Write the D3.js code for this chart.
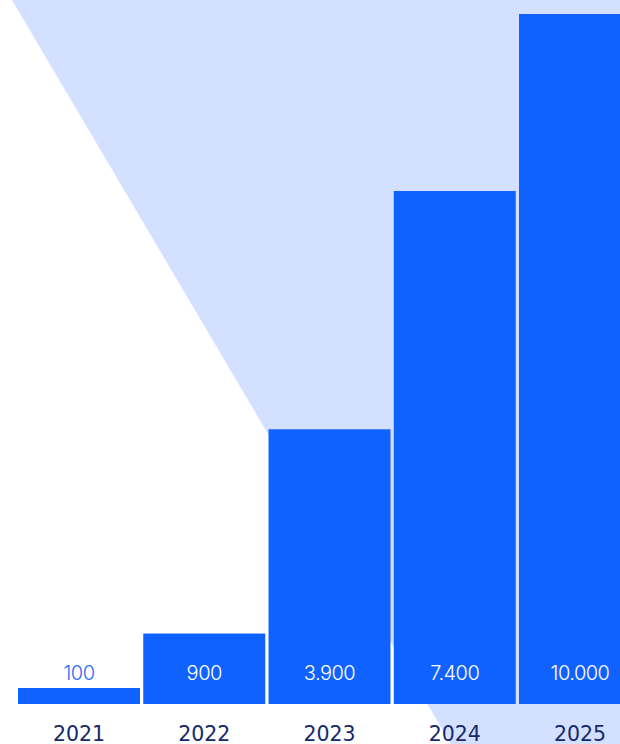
<!DOCTYPE html>
<html>
<head>
<meta charset="utf-8">
<script src="https://cdn.jsdelivr.net/npm/d3@7"></script>
<style>
  html, body { margin: 0; padding: 0; background: #ffffff; }
  svg { display: block; }
</style>
</head>
<body>
<svg id="chart" width="620" height="744"></svg>
<script>
const years = ["2021", "2022", "2023", "2024", "2025"];
const values = [100, 900, 3900, 7400, 10000];
const valueLabels = ["100", "900", "3.900", "7.400", "10.000"];

const W = 620, H = 744;
const svg = d3.select("#chart");

const x = d3.scaleBand().domain(years).range([18, 641]).paddingInner(0.026).paddingOuter(0);
const y = d3.scaleLinear().domain([-135, 10000]).range([704, 14]);

// background diagonal shape
const slope = 0.59;
const x0 = 12;
svg.append("path")
  .attr("d", d3.line()([[x0, 0], [W, 0], [W, H], [x0 + slope * H, H]]))
  .attr("fill", "#d3e0ff");

// bars
svg.selectAll("rect.bar")
  .data(years)
  .join("rect")
  .attr("class", "bar")
  .attr("x", d => x(d))
  .attr("width", x.bandwidth())
  .attr("y", (d, i) => y(values[i]))
  .attr("height", (d, i) => y(-135) - y(values[i]))
  .attr("fill", "#1062ff");

// value labels
svg.selectAll("text.val")
  .data(years)
  .join("text")
  .attr("class", "val")
  .attr("x", d => x(d) + x.bandwidth() / 2)
  .attr("y", 680)
  .attr("text-anchor", "middle")
  .attr("font-family", "Inter, 'Liberation Sans', sans-serif")
  .attr("font-weight", 300)
  .attr("font-size", 20)
  .attr("letter-spacing", -0.5)
  .attr("fill", (d, i) => (y(values[i]) > 680 ? "#2a6cff" : "#ffffff"))
  .text((d, i) => valueLabels[i]);

// year axis labels
const xAxis = d3.axisBottom(x).tickSize(0).tickPadding(0);
const gx = svg.append("g").attr("transform", "translate(0,724)").call(xAxis);
gx.select(".domain").remove();
gx.selectAll("text")
  .attr("dy", null)
  .attr("y", 16.5)
  .attr("font-family", "'DejaVu Sans', sans-serif")
  .attr("font-size", 20.5)
  .attr("fill", "#15296b");
</script>
</body>
</html>
